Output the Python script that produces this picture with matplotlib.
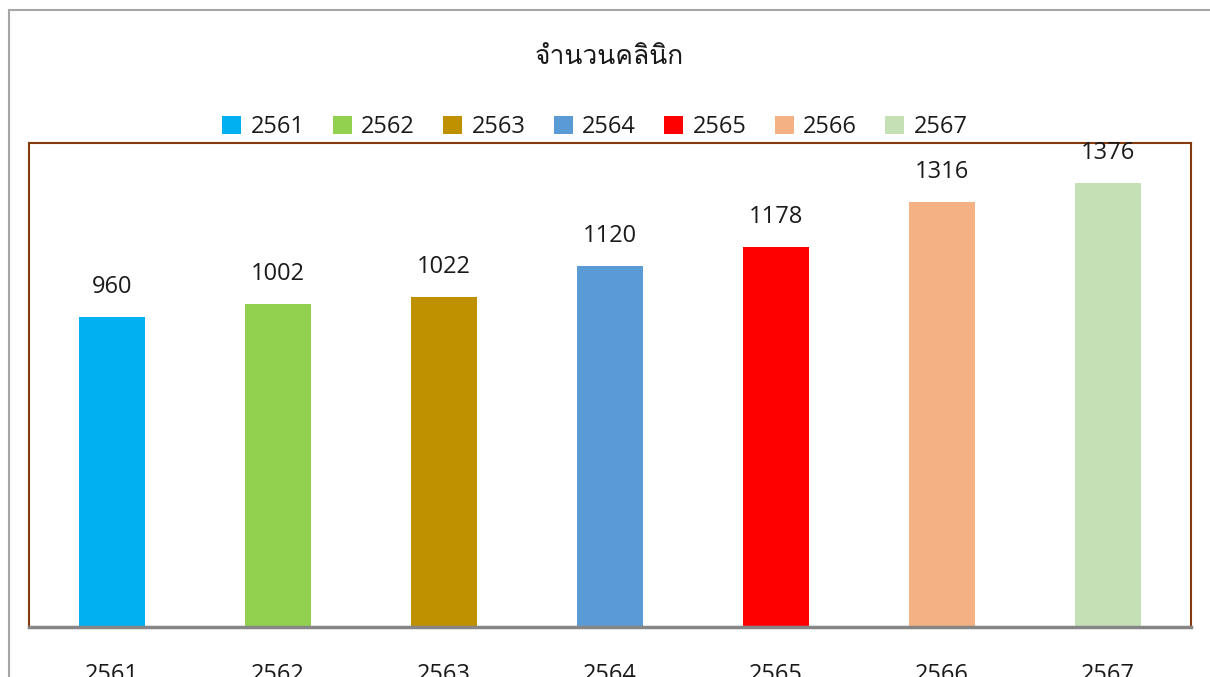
import matplotlib
matplotlib.use("Agg")
import matplotlib.pyplot as plt
from matplotlib import font_manager
from matplotlib.ft2font import FT2Font
from matplotlib.patches import Rectangle

years = ['2561', '2562', '2563', '2564', '2565', '2566', '2567']
clinics = [960, 1002, 1022, 1120, 1178, 1316, 1376]
colors = ['#00B0F0', '#92D050', '#BF9000', '#5B9BD5', '#FF0000', '#F4B183', '#C5E0B4']
title = 'จำนวนคลินิก'


def find_thai_font():
    # pick any installed font that has Thai glyphs
    for f in font_manager.fontManager.ttflist:
        try:
            if 0x0E08 in FT2Font(f.fname).get_charmap():
                return f.name
        except Exception:
            pass
    return None


thai = find_thai_font()
num_font = ['Open Sans', 'DejaVu Sans']
title_font = [thai, 'DejaVu Sans'] if thai else ['DejaVu Sans']

fig = plt.figure(figsize=(12.1, 6.77), dpi=100)
ax = fig.add_axes([29 / 1210, 50 / 677, (1191 - 29) / 1210, (627 - 143) / 677])

x = range(len(years))
bars = ax.bar(x, clinics, width=0.4, color=colors, label=years)
ax.set_xlim(-0.5, len(years) - 0.5)
ax.set_ylim(0, 1500)
ax.set_yticks([])
ax.set_xticks(list(x))
ax.set_xticklabels(years, fontsize=17, family=num_font, color='#1a1a1a')
ax.tick_params(axis='x', length=0, pad=26)

for side in ['top', 'left', 'right']:
    ax.spines[side].set_color('#843C0C')
    ax.spines[side].set_linewidth(1.5)
ax.spines['bottom'].set_color('#868686')
ax.spines['bottom'].set_linewidth(2.5)

for b, v in zip(bars, clinics):
    ax.annotate(str(v), (b.get_x() + b.get_width() / 2, v), xytext=(0, 13),
                textcoords='offset points', ha='center', va='bottom',
                fontsize=17, family=num_font, color='#1a1a1a')

fig.text(609 / 1210, 1 - 57 / 677, title, ha='center', va='center',
         fontsize=19, family=title_font, color='#1a1a1a')

fig.legend(handles=list(bars), labels=years, loc='center',
           bbox_to_anchor=(595 / 1210, 1 - 127 / 677), ncol=7, frameon=False,
           handlelength=0.8, handleheight=0.8, handletextpad=0.4,
           columnspacing=1.2, prop={'family': num_font, 'size': 17},
           labelcolor='#1a1a1a')

# outer chart frame, cut off on the right and bottom
fig.patches.append(Rectangle((9 / 1210, -0.1), 2, 1.1 - 10 / 677,
                             transform=fig.transFigure, fill=False,
                             edgecolor='#A6A6A6', linewidth=1.5))

fig.savefig('out.png', dpi=100)
